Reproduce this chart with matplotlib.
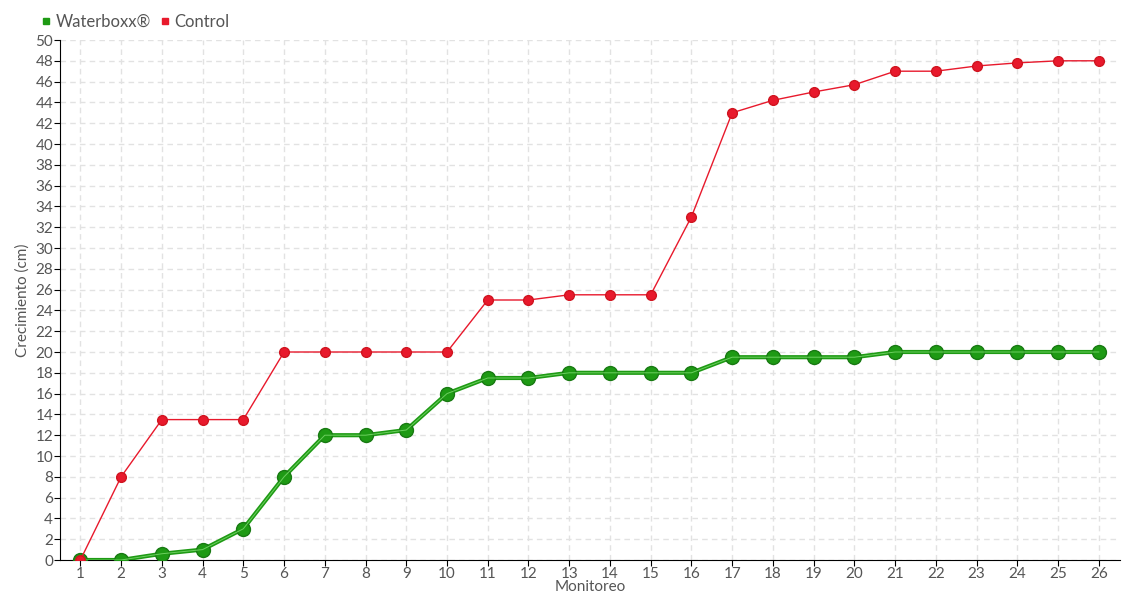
import matplotlib
matplotlib.use("Agg")
import matplotlib.pyplot as plt
from matplotlib.lines import Line2D

plt.rcParams['font.family'] = ['Lato', 'DejaVu Sans']

monitoreo = list(range(1, 27))
waterboxx = [0, 0, 0.6, 1, 3, 8, 12, 12, 12.5, 16, 17.5, 17.5, 18, 18, 18, 18,
             19.5, 19.5, 19.5, 19.5, 20, 20, 20, 20, 20, 20]
control = [0, 8, 13.5, 13.5, 13.5, 20, 20, 20, 20, 20, 25, 25, 25.5, 25.5, 25.5, 33,
           43, 44.2, 45, 45.7, 47, 47, 47.5, 47.8, 48, 48]

green = "#1e9a14"
red = "#e8192c"
txt = "#555555"

fig = plt.figure(figsize=(11.4, 6), dpi=100)
ax = fig.add_axes([60 / 1140, 40 / 600, 1060 / 1140, 520 / 600])

ax.plot(monitoreo, waterboxx, color=green, lw=3, marker="o", ms=10,
        markerfacecolor=green, markeredgecolor="#187a12", zorder=4)
ax.plot(monitoreo, waterboxx, color="#6ccf5f", lw=0.7, zorder=5)
ax.plot(monitoreo, control, color=red, lw=1, marker="o", ms=7,
        markerfacecolor=red, markeredgecolor="#d0141f", zorder=6)

ax.set_xlim(0.5, 26.52)
ax.set_ylim(0, 50)
ax.set_xticks(monitoreo)
ax.set_yticks(range(0, 51, 2))
ax.grid(True, color="#e2e2e2", linestyle=(0, (4, 3)), lw=1)
ax.set_axisbelow(True)
for s in ["top", "right"]:
    ax.spines[s].set_visible(False)
ax.spines["left"].set_color("black")
ax.spines["bottom"].set_color("black")
ax.tick_params(axis="both", colors="black", labelcolor=txt, labelsize=11, length=4, pad=1)

ax.set_xlabel("Monitoreo", color=txt, fontsize=11, labelpad=-1)
ax.set_ylabel("Crecimiento (cm)", color=txt, fontsize=11, labelpad=4)

handles = [Line2D([], [], ls="none", marker="s", ms=5, color=green),
           Line2D([], [], ls="none", marker="s", ms=5, color=red)]
fig.legend(handles, ["Waterboxx\u00ae", "Control"], loc="center left",
           bbox_to_anchor=(42 / 1140, 1 - 22 / 600), ncol=2, frameon=False,
           handlelength=0.5, handletextpad=0.3, columnspacing=0.6,
           borderaxespad=0, borderpad=0, labelcolor=txt, fontsize=12)

fig.savefig("out.png", dpi=100)
